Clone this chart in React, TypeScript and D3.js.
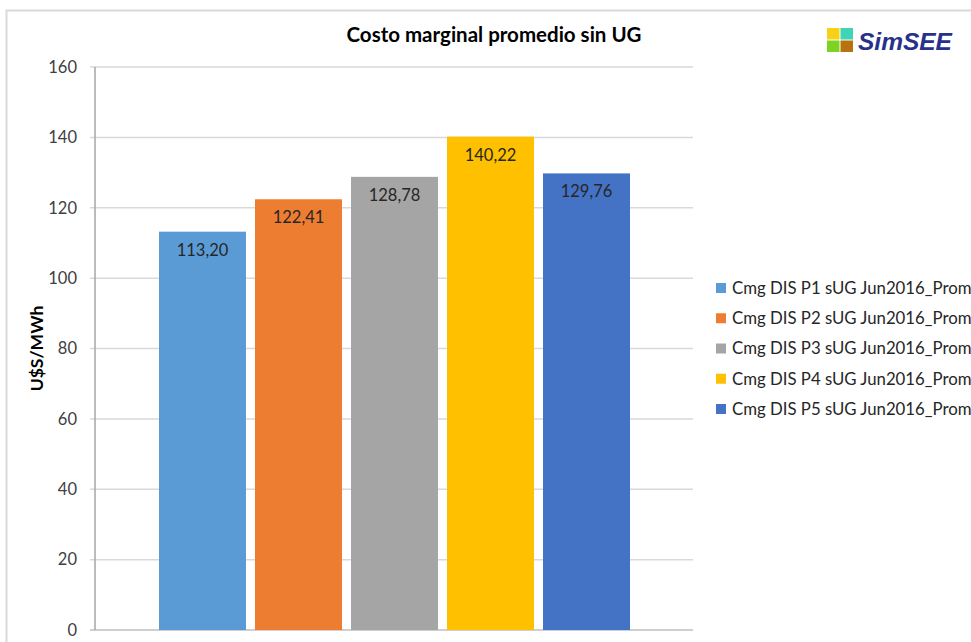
import React from "react";
import * as d3 from "d3";

const series = [
  "Cmg DIS P1 sUG Jun2016_Prom",
  "Cmg DIS P2 sUG Jun2016_Prom",
  "Cmg DIS P3 sUG Jun2016_Prom",
  "Cmg DIS P4 sUG Jun2016_Prom",
  "Cmg DIS P5 sUG Jun2016_Prom",
];
const values = [113.2, 122.41, 128.78, 140.22, 129.76];
const labels = ["113,20", "122,41", "128,78", "140,22", "129,76"];
const colors = ["#5b9bd5", "#ed7d31", "#a5a5a5", "#ffc000", "#4472c4"];
const yTicks = [0, 20, 40, 60, 80, 100, 120, 140, 160];

const W = 971;
const H = 642;
const FONT = "Lato, 'Open Sans', sans-serif";

export default function App() {
  const y = d3.scaleLinear().domain([0, 160]).range([630, 67]);
  const x = d3
    .scaleBand<string>()
    .domain(series)
    .range([159, 630])
    .paddingInner(0.094)
    .paddingOuter(0);
  const plotL = 95;
  const plotR = 693;
  const legY = d3.scalePoint<string>().domain(series).range([288, 409]);

  return (
    <svg
      width={W}
      height={H}
      style={{ position: "absolute", left: 0, top: 0, background: "#fff" }}
    >
      <rect x={0} y={0} width={W} height={H} fill="#fff" />
      {/* outer frame */}
      <path d={`M6.5,${H} V10.5 H${W}`} fill="none" stroke="#d9d9d9" strokeWidth={2} />

      {/* title */}
      <text
        x={494}
        y={42}
        textAnchor="middle"
        fontFamily={FONT}
        fontWeight="bold"
        fontSize={20.5}
        fill="#000"
      >
        Costo marginal promedio sin UG
      </text>

      {/* logo */}
      <g>
        <rect x={827} y={28} width={12.5} height={11.5} fill="#f7d117" />
        <rect x={840.5} y={28} width={12.5} height={11.5} fill="#3fd4b4" />
        <rect x={827} y={40.5} width={12.5} height={11.5} fill="#7ed321" />
        <rect x={840.5} y={40.5} width={12.5} height={11.5} fill="#b7730f" />
        <text
          x={858}
          y={50}
          fontFamily="'Liberation Sans', Arial, sans-serif"
          fontWeight="bold"
          fontStyle="italic"
          fontSize={24.5}
          fill="#27318b"
        >
          SimSEE
        </text>
      </g>

      {/* gridlines */}
      {yTicks.map((t) => (
        <line
          key={"g" + t}
          x1={90}
          x2={plotR}
          y1={y(t)}
          y2={y(t)}
          stroke={t === 0 ? "#bfbfbf" : "#d9d9d9"}
          strokeWidth={1.5}
        />
      ))}
      {/* y axis */}
      <line x1={plotL} x2={plotL} y1={y(160)} y2={y(0)} stroke="#a6a6a6" strokeWidth={1.5} />
      {yTicks.map((t) => (
        <text
          key={"t" + t}
          x={77}
          y={y(t)}
          dy="0.35em"
          textAnchor="end"
          fontFamily={FONT}
          fontSize={16.5}
          fill="#404040"
        >
          {t}
        </text>
      ))}
      <text
        transform={`translate(43,${(y(0) + y(160)) / 2}) rotate(-90)`}
        textAnchor="middle"
        fontFamily={FONT}
        fontWeight="bold"
        fontSize={17.5}
        fill="#000"
      >
        U$S/MWh
      </text>

      {/* bars */}
      {series.map((s, i) => (
        <g key={s}>
          <rect
            x={x(s)}
            y={y(values[i])}
            width={x.bandwidth()}
            height={y(0) - y(values[i])}
            fill={colors[i]}
          />
          <text
            x={(x(s) as number) + x.bandwidth() / 2}
            y={y(values[i]) + 24}
            textAnchor="middle"
            fontFamily={FONT}
            fontSize={16.5}
            fill="#262626"
          >
            {labels[i]}
          </text>
        </g>
      ))}

      {/* legend */}
      {series.map((s, i) => (
        <g key={"l" + s}>
          <rect x={716} y={(legY(s) as number) - 5} width={10} height={10} fill={colors[i]} />
          <text
            x={732}
            y={legY(s) as number}
            dy="0.35em"
            fontFamily={FONT}
            fontSize={16.8}
            fill="#262626"
          >
            {s}
          </text>
        </g>
      ))}
    </svg>
  );
}
